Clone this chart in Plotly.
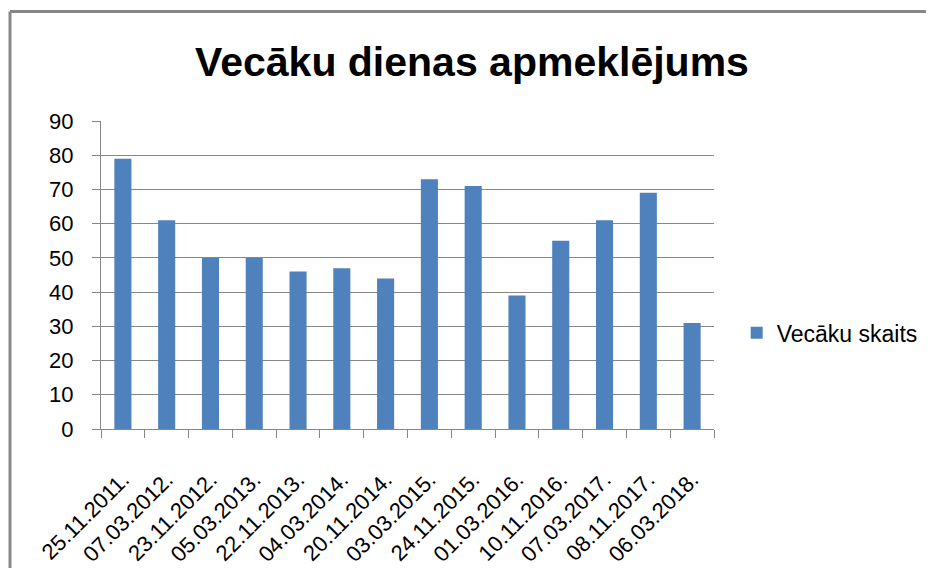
import plotly.graph_objects as go

categories = ["25.11.2011.", "07.03.2012.", "23.11.2012.", "05.03.2013.", "22.11.2013.",
              "04.03.2014.", "20.11.2014.", "03.03.2015.", "24.11.2015.", "01.03.2016.",
              "10.11.2016.", "07.03.2017.", "08.11.2017.", "06.03.2018."]
values = [79, 61, 50, 50, 46, 47, 44, 73, 71, 39, 55, 61, 69, 31]
series_name = "Vecāku skaits"
title_text = "Vecāku dienas apmeklējums"
y_ticks = [0, 10, 20, 30, 40, 50, 60, 70, 80, 90]

GRAY = "#878787"
FONT = "Liberation Sans, Arial, sans-serif"

# page body adds an 8px offset; compensate in margins
OFF = 8
L, T, PW, PH = 101 - OFF, 121 - OFF, 613, 308

fig = go.Figure()
fig.add_trace(go.Bar(x=categories, y=values, name=series_name,
                     marker=dict(color="#4F81BD", line=dict(width=0))))

fig.update_layout(
    width=934, height=568,
    margin=dict(l=L, r=934 - L - PW, t=T, b=568 - T - PH, autoexpand=False),
    paper_bgcolor="white", plot_bgcolor="white",
    font=dict(family=FONT, size=22, color="#000000"),
    title=dict(text="<b>" + title_text + "</b>", x=(472 - OFF) / 934, xanchor="center",
               y=1 - (62 - OFF) / 568, yanchor="middle", yref="container",
               font=dict(family=FONT, size=41, color="#000000")),
    bargap=0.61,
    showlegend=True,
    legend=dict(x=1.037, xanchor="left", y=0.312, yanchor="middle",
                font=dict(family=FONT, size=23, color="#000000"),
                bgcolor="rgba(0,0,0,0)"),
    xaxis=dict(type="category", showgrid=False, showline=True, linecolor=GRAY, linewidth=1,
               ticks="outside", tickson="boundaries", ticklen=8, tickcolor=GRAY,
               tickangle=-45, ticklabelstandoff=28, fixedrange=True),
    yaxis=dict(range=[0, 90], tickvals=y_ticks, showgrid=True, gridcolor=GRAY, gridwidth=1,
               showline=True, linecolor=GRAY, linewidth=1, zeroline=False,
               ticks="outside", ticklen=8, tickcolor=GRAY, ticklabelstandoff=14,
               fixedrange=True),
    bargroupgap=0,
)

# chart frame (only top and left edges visible in the cropped reference)
fx = (10 - OFF - L) / PW
fy = (T + PH - (11.5 - OFF)) / PH
fig.add_shape(type="line", xref="paper", yref="paper",
              x0=fx, x1=1.4, y0=fy, y1=fy, line=dict(color=GRAY, width=3))
fig.add_shape(type="line", xref="paper", yref="paper",
              x0=fx, x1=fx, y0=fy, y1=-0.6, line=dict(color=GRAY, width=3))

fig.write_html("out.html")
